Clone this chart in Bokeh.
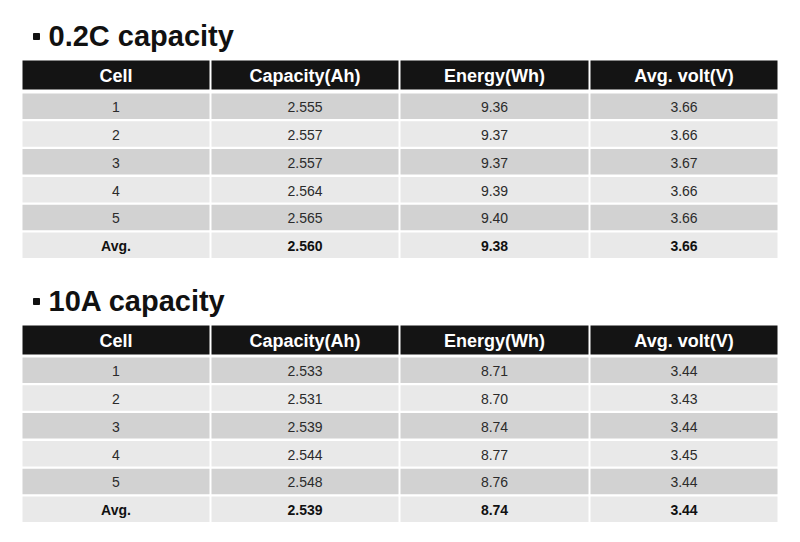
from bokeh.plotting import figure
from bokeh.models import Range1d, ColumnDataSource
from bokeh.core.properties import value
from bokeh.embed import file_html
from bokeh.resources import INLINE

# ---- data ----
headers = ["Cell", "Capacity(Ah)", "Energy(Wh)", "Avg. volt(V)"]
cells = ["1", "2", "3", "4", "5", "Avg."]

t1_title = "0.2C capacity"
t1_capacity = ["2.555", "2.557", "2.557", "2.564", "2.565", "2.560"]
t1_energy = ["9.36", "9.37", "9.37", "9.39", "9.40", "9.38"]
t1_volt = ["3.66", "3.66", "3.67", "3.66", "3.66", "3.66"]

t2_title = "10A capacity"
t2_capacity = ["2.533", "2.531", "2.539", "2.544", "2.548", "2.539"]
t2_energy = ["8.71", "8.70", "8.74", "8.77", "8.76", "8.74"]
t2_volt = ["3.44", "3.43", "3.44", "3.45", "3.44", "3.44"]

# ---- layout (pixel coordinates of the 800x542 page) ----
FONT = "Liberation Sans"
col_edges = [22, 210, 399, 589, 777]
GAP = 2
ROW_PITCH = 27.8
ROW_H = 25.5
DARK = "#d2d2d2"
LIGHT = "#e9e9e9"
HEAD = "#141414"
TXT = "#2b2b2b"

p = figure(width=784, height=526, output_backend="svg", toolbar_location=None,
           x_range=Range1d(0, 784), y_range=Range1d(526, 0),
           min_border=0, outline_line_color=None)
p.axis.visible = False
p.grid.visible = False
p.background_fill_color = "white"
p.border_fill_color = "white"


def draw_table(title, title_y, head_top, head_bot, body_top, cols):
    # title
    p.scatter(x=[36], y=[title_y + 1], marker="square", size=6, color="#111111")
    p.text(x=[48], y=[title_y], text=[title], text_font=value(FONT),
           text_font_size="29px", text_font_style="bold", text_color="#111111",
           text_align="left", text_baseline="middle")
    # header
    lefts = [col_edges[i] + (0 if i == 0 else GAP / 2) for i in range(4)]
    rights = [col_edges[i + 1] - (0 if i == 3 else GAP / 2) for i in range(4)]
    p.quad(left=lefts, right=rights, top=[head_top] * 4, bottom=[head_bot] * 4,
           color=HEAD, line_color=None)
    p.text(x=[(l + r) / 2 for l, r in zip(lefts, rights)],
           y=[(head_top + head_bot) / 2 + 1] * 4, text=headers,
           text_font=value(FONT), text_font_size="18px", text_font_style="bold",
           text_color="white", text_align="center", text_baseline="middle")
    # body
    qs = dict(left=[], right=[], top=[], bottom=[], color=[])
    ts = dict(x=[], y=[], text=[])
    tb = dict(x=[], y=[], text=[])
    for r in range(len(cells)):
        top = body_top + r * ROW_PITCH
        bot = top + ROW_H
        fill = DARK if r % 2 == 0 else LIGHT
        for c in range(4):
            qs["left"].append(lefts[c]); qs["right"].append(rights[c])
            qs["top"].append(top); qs["bottom"].append(bot); qs["color"].append(fill)
            tgt = tb if cells[r] == "Avg." else ts
            tgt["x"].append((lefts[c] + rights[c]) / 2)
            tgt["y"].append((top + bot) / 2 + 1)
            tgt["text"].append(cols[c][r])
    p.quad(left="left", right="right", top="top", bottom="bottom", color="color",
           line_color=None, source=ColumnDataSource(qs))
    p.text(x="x", y="y", text="text", source=ColumnDataSource(ts),
           text_font=value(FONT), text_font_size="14px", text_color=TXT,
           text_align="center", text_baseline="middle")
    p.text(x="x", y="y", text="text", source=ColumnDataSource(tb),
           text_font=value(FONT), text_font_size="14px", text_font_style="bold",
           text_color="#111111", text_align="center", text_baseline="middle")


draw_table(t1_title, 35, 60, 89, 93, [cells, t1_capacity, t1_energy, t1_volt])
draw_table(t2_title, 300, 325, 354, 357, [cells, t2_capacity, t2_energy, t2_volt])

open("out.html", "w").write(file_html(p, INLINE))
